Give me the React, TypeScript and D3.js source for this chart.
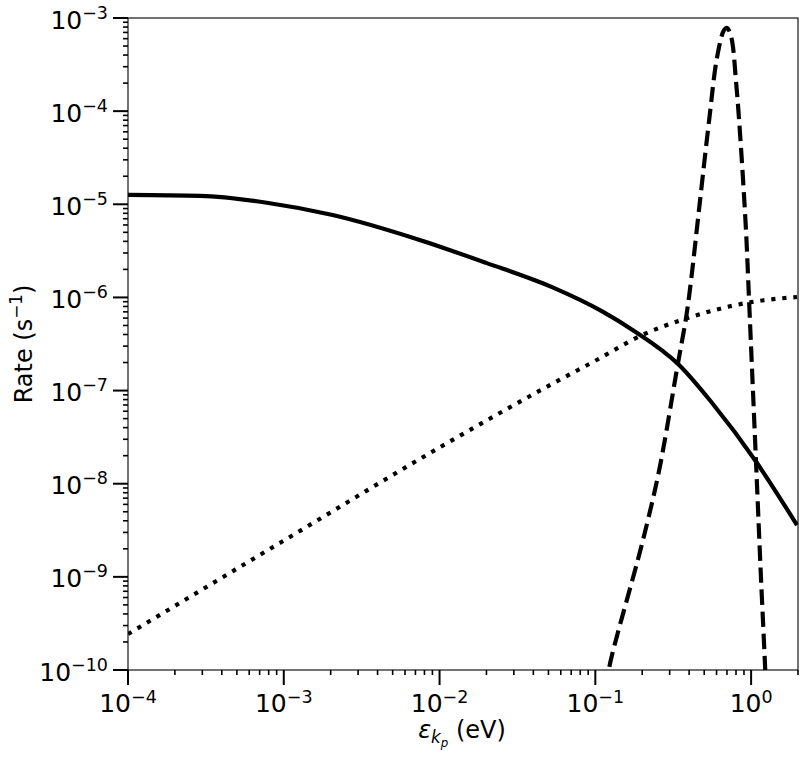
import React from "react";
import * as d3 from "d3";

const xMajorTicks = [1e-4, 1e-3, 1e-2, 1e-1, 1];
const xMajorExps = ["\u22124", "\u22123", "\u22122", "\u22121", "0"];
const yMajorTicks = [1e-10, 1e-9, 1e-8, 1e-7, 1e-6, 1e-5, 1e-4, 1e-3];
const yMajorExps = ["\u221210", "\u22129", "\u22128", "\u22127", "\u22126", "\u22125", "\u22124", "\u22123"];

// Solid curve
const solidE = [1e-4, 2.9e-4, 7.78e-4, 2.06e-3, 7.45e-3, 1.99e-2, 5.32e-2, 0.1114, 0.1734, 0.345, 0.562, 1.08, 1.97];
const solidRate = [1.26e-5, 1.23e-5, 1.04e-5, 7.67e-6, 4.14e-6, 2.35e-6, 1.28e-6, 7.03e-7, 4.47e-7, 1.88e-7, 7.35e-8, 1.71e-8, 3.6e-9];

// Dotted curve
const dottedE = [1e-4, 1e-3, 1e-2, 0.0588, 0.1, 0.2, 0.36, 1.0, 1.97];
const dottedRate = [2.43e-10, 2.45e-9, 2.45e-8, 1.3e-7, 2.09e-7, 3.95e-7, 5.75e-7, 8.9e-7, 1.01e-6];

// Dashed curve
const dashedE = [0.1175, 0.123, 0.2, 0.257, 0.336, 0.383, 0.412, 0.465, 0.538, 0.605, 0.671, 0.701, 0.745, 0.802, 0.863, 0.929, 0.97, 1.076, 1.159, 1.23, 1.245];
const dashedRate = [6.3e-11, 1.08e-10, 2.31e-9, 1.4e-8, 1.79e-7, 6.17e-7, 1.54e-6, 9.35e-6, 8.04e-5, 3.81e-4, 7.43e-4, 7.82e-4, 6.25e-4, 2.0e-4, 3.83e-5, 4.92e-6, 9.4e-7, 1.67e-8, 9.2e-10, 1.08e-10, 6.3e-11];

const W = 804;
const H = 762;
const L = 128, R = 798, T = 18, B = 670;
const FONT = "'DejaVu Sans', sans-serif";
const LW = 4.17;

export default function App() {
  const x = d3.scaleLog().domain([1e-4, 2]).range([L, R]);
  const y = d3.scaleLog().domain([1e-10, 1e-3]).range([B, T]);

  const mk = (es: number[], rs: number[], curve: d3.CurveFactory) =>
    d3
      .line<number>()
      .x((_, i) => x(es[i]))
      .y((_, i) => y(rs[i]))
      .curve(curve)(es.map((_, i) => i)) as string;

  const xMinor: number[] = [];
  for (let e = -4; e <= 0; e++) {
    for (let m = 2; m <= 9; m++) {
      const v = m * Math.pow(10, e);
      if (v <= 2.0001) xMinor.push(v);
    }
  }
  const yMinor: number[] = [];
  for (let e = -10; e < -3; e++) {
    for (let m = 2; m <= 9; m++) yMinor.push(m * Math.pow(10, e));
  }

  return (
    <div style={{ position: "absolute", left: 0, top: 0 }}>
      <svg width={W} height={H} style={{ display: "block", background: "#fff" }} fontFamily={FONT}>
        <defs>
          <clipPath id="plotclip">
            <rect x={L} y={T} width={R - L} height={B - T} />
          </clipPath>
        </defs>
        <g clipPath="url(#plotclip)" fill="none" stroke="#000" strokeWidth={LW}>
          <path d={mk(solidE, solidRate, d3.curveMonotoneX)} />
          <path d={mk(dottedE, dottedRate, d3.curveMonotoneX)} strokeDasharray={`${LW} ${1.65 * LW}`} />
          <path d={mk(dashedE, dashedRate, d3.curveCatmullRom.alpha(0.5))} strokeDasharray={`${3.7 * LW} ${1.6 * LW}`} />
        </g>
        {/* spines */}
        <rect x={L} y={T} width={R - L} height={B - T} fill="none" stroke="#000" strokeWidth={1.1} />
        {/* x ticks */}
        {xMinor.map((v, i) => (
          <line key={"xm" + i} x1={x(v)} x2={x(v)} y1={B} y2={B + 5} stroke="#000" strokeWidth={1.6} />
        ))}
        {xMajorTicks.map((v, i) => (
          <g key={"xM" + i}>
            <line x1={x(v)} x2={x(v)} y1={B} y2={B + 15} stroke="#000" strokeWidth={2} />
            <text x={x(v)} y={712} textAnchor="middle" fontSize={25} fill="#000">
              10
              <tspan fontSize={17.5} dy={-9.5}>{xMajorExps[i]}</tspan>
            </text>
          </g>
        ))}
        {/* y ticks */}
        {yMinor.map((v, i) => (
          <line key={"ym" + i} x1={L - 5} x2={L} y1={y(v)} y2={y(v)} stroke="#000" strokeWidth={1.6} />
        ))}
        {yMajorTicks.map((v, i) => (
          <g key={"yM" + i}>
            <line x1={L - 15} x2={L} y1={y(v)} y2={y(v)} stroke="#000" strokeWidth={2} />
            <text x={108} y={y(v) + 10.5} textAnchor="end" fontSize={25} fill="#000">
              10
              <tspan fontSize={17.5} dy={-10}>{yMajorExps[i]}</tspan>
            </text>
          </g>
        ))}
        {/* axis labels */}
        <text x={462} y={738} textAnchor="middle" fontSize={24} fill="#000">
          <tspan fontStyle="italic">ε</tspan>
          <tspan fontStyle="italic" fontSize={16.8} dy={5}>k</tspan>
          <tspan fontStyle="italic" fontSize={11.8} dy={4}>p</tspan>
          <tspan dy={-9}> (eV)</tspan>
        </text>
        <text transform={`translate(32,${(T + B) / 2}) rotate(-90)`} textAnchor="middle" fontSize={24} fill="#000">
          Rate (s
          <tspan fontSize={16.8} dy={-10}>−1</tspan>
          <tspan dy={10}>)</tspan>
        </text>
      </svg>
    </div>
  );
}
